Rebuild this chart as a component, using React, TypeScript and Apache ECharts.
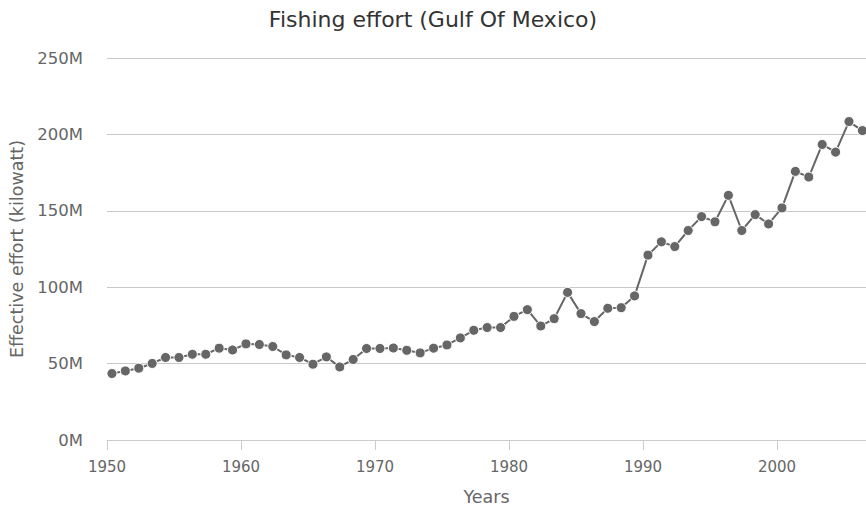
import React, { useEffect, useRef } from "react";
import * as echarts from "echarts";

const TITLE = "Fishing effort (Gulf Of Mexico)";
const Y_NAME = "Effective effort (kilowatt)";
const X_NAME = "Years";

const years: number[] = [
  1950, 1951, 1952, 1953, 1954, 1955, 1956, 1957, 1958, 1959,
  1960, 1961, 1962, 1963, 1964, 1965, 1966, 1967, 1968, 1969,
  1970, 1971, 1972, 1973, 1974, 1975, 1976, 1977, 1978, 1979,
  1980, 1981, 1982, 1983, 1984, 1985, 1986, 1987, 1988, 1989,
  1990, 1991, 1992, 1993, 1994, 1995, 1996, 1997, 1998, 1999,
  2000, 2001, 2002, 2003, 2004, 2005, 2006,
];

// effective effort, millions of kilowatt
const effortM: number[] = [
  43.5, 45.2, 47.0, 50.1, 54.0, 54.0, 56.1, 56.1, 60.1, 58.9,
  62.9, 62.5, 61.2, 55.7, 54.0, 49.6, 54.4, 47.8, 52.7, 59.9,
  59.9, 60.2, 58.7, 57.0, 60.1, 62.2, 66.8, 71.8, 73.6, 73.6,
  80.9, 85.3, 74.6, 79.4, 96.6, 82.7, 77.5, 86.2, 86.6, 94.3,
  121.0, 129.7, 126.6, 137.1, 146.2, 142.8, 160.1, 137.1, 147.5, 141.4,
  151.9, 175.8, 172.1, 193.4, 188.4, 208.4, 202.5,
];

const yTicks = { min: 0, max: 250, interval: 50 };
const xTicks = { min: 1950, max: 2006.64, interval: 10 };
const POINT_SHIFT = 0.37; // points sit slightly after the year tick

export default function App() {
  const ref = useRef<HTMLDivElement>(null);
  useEffect(() => {
    if (!ref.current) return;
    const chart = echarts.init(ref.current, null, { renderer: "svg" });
    const font = "DejaVu Sans";
    chart.setOption({
      animation: false,
      textStyle: { fontFamily: font },
      title: {
        text: TITLE,
        left: "center",
        top: 3,
        textStyle: { fontFamily: font, fontSize: 22, fontWeight: "normal", color: "#333" },
      },
      grid: { left: 107, right: 0, top: 58, bottom: 63, containLabel: false },
      xAxis: {
        type: "value",
        min: xTicks.min,
        max: xTicks.max,
        interval: xTicks.interval,
        name: X_NAME,
        nameLocation: "middle",
        nameGap: 48,
        nameTextStyle: { fontFamily: font, fontSize: 17.5, color: "#666" },
        axisLine: { show: true, lineStyle: { color: "#ccc", width: 1 } },
        axisTick: { show: true, length: 10, lineStyle: { color: "#ccc" } },
        axisLabel: {
          fontFamily: font,
          fontSize: 15,
          color: "#666",
          margin: 19,
          showMaxLabel: false,
          formatter: (v: number) => (v % 10 === 0 ? String(v) : ""),
        },
        splitLine: { show: false },
      },
      yAxis: {
        type: "value",
        min: yTicks.min,
        max: yTicks.max,
        interval: yTicks.interval,
        name: Y_NAME,
        nameLocation: "middle",
        nameGap: 81,
        nameTextStyle: { fontFamily: font, fontSize: 17.5, color: "#666" },
        axisLine: { show: false },
        axisTick: { show: false },
        axisLabel: {
          fontFamily: font,
          fontSize: 16.5,
          color: "#666",
          margin: 24,
          formatter: (v: number) => `${v}M`,
        },
        splitLine: { show: true, lineStyle: { color: "#c8c8c8", width: 1 } },
      },
      series: [
        {
          type: "line",
          data: years.map((y, i) => [y + POINT_SHIFT, effortM[i]]),
          symbol: "circle",
          symbolSize: 10,
          lineStyle: { color: "#666", width: 2 },
          itemStyle: { color: "#666", borderColor: "#fff", borderWidth: 1 },
          clip: true,
        },
      ],
    });
    return () => chart.dispose();
  }, []);
  return (
    <div
      ref={ref}
      style={{ position: "fixed", left: 0, top: 0, width: 866, height: 511, background: "#fff" }}
    />
  );
}
